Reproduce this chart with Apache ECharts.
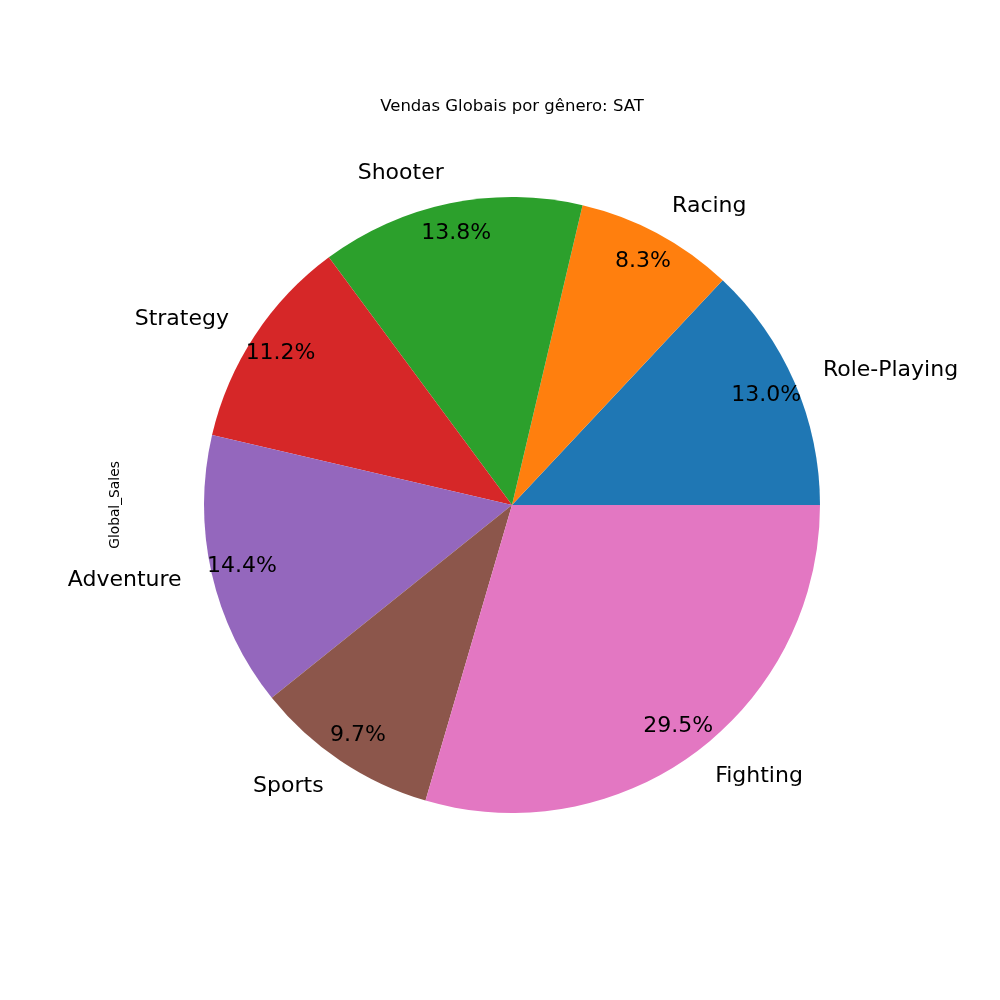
<!DOCTYPE html>
<html>
<head>
<meta charset="utf-8">
<script src="https://cdn.jsdelivr.net/npm/echarts@6/dist/echarts.min.js"></script>
<style>
  html, body { margin: 0; padding: 0; background: #fff; }
  #chart { width: 1000px; height: 1000px; }
</style>
</head>
<body>
<div id="chart"></div>
<script>
// Vendas Globais por gênero: SAT
const genres = ["Role-Playing", "Racing", "Shooter", "Strategy", "Adventure", "Sports", "Fighting"];
const sharePct = [13.0, 8.3, 13.8, 11.2, 14.4, 9.7, 29.5];
const colors = ["#1f77b4", "#ff7f0e", "#2ca02c", "#d62728", "#9467bd", "#8c564b", "#e377c2"];

const total = sharePct.reduce((a, b) => a + b, 0);
const pieData = genres.map((g, i) => ({ name: g, value: sharePct[i], itemStyle: { color: colors[i] } }));

const font = "DejaVu Sans";
const cx = 512, cy = 505, R = 308;

const chart = echarts.init(document.getElementById("chart"));

const option = {
    animation: false,
    graphic: [
        {
            // title, centred over the pie
            type: "text",
            x: cx,
            y: 107,
            style: {
                text: "Vendas Globais por gênero: SAT",
                fontFamily: font,
                fontSize: 16.5,
                fill: "#000",
                align: "center",
                verticalAlign: "middle",
            },
        },
        {
            type: "text",
            x: 115,
            y: 505,
            rotation: Math.PI / 2,
            style: {
                text: "Global_Sales",
                fontFamily: font,
                fontSize: 13.8,
                fill: "#000",
                align: "center",
                verticalAlign: "middle",
            },
        },
    ],
    series: [
        {
            // slices + genre names
            type: "pie",
            center: [cx, cy],
            radius: [0, R],
            startAngle: 0,
            clockwise: false,
            avoidLabelOverlap: false,
            silent: true,
            data: pieData,
            itemStyle: { borderWidth: 0 },
            label: {
                show: true,
                position: "outside",
                fontFamily: font,
                fontSize: 22,
                color: "#000",
                distanceToLabelLine: 0,
                formatter: "{b}",
            },
            labelLine: { show: false, length: R * 0.1, length2: 0 },
        },
        {
            // percentages
            type: "pie",
            center: [cx, cy],
            radius: [240, R],
            startAngle: 0,
            clockwise: false,
            avoidLabelOverlap: false,
            silent: true,
            data: pieData.map((d) => ({ name: d.name, value: d.value })),
            itemStyle: { color: "rgba(0,0,0,0)", borderWidth: 0 },
            label: {
                show: true,
                position: "inside",
                fontFamily: font,
                fontSize: 22,
                color: "#000",
                formatter: (p) => ((p.value / total) * 100).toFixed(1) + "%",
            },
            labelLine: { show: false },
        },
    ],
};

chart.setOption(option);
</script>
</body>
</html>
